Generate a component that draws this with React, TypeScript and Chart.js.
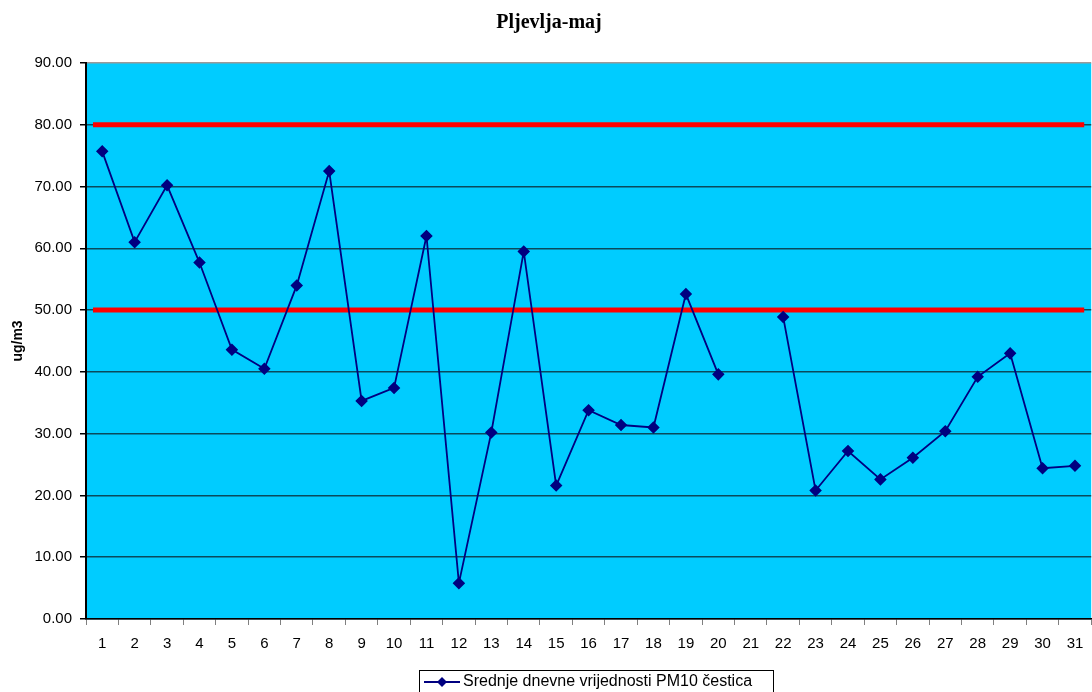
import React, { useEffect, useRef } from "react";
import { Chart, registerables } from "chart.js";

Chart.register(...registerables);

const categories = ["1","2","3","4","5","6","7","8","9","10","11","12","13","14","15","16","17","18","19","20","21","22","23","24","25","26","27","28","29","30","31"];
const pm10Values: (number | null)[] = [75.7, 61.0, 70.2, 57.7, 43.6, 40.5, 54.0, 72.5, 35.3, 37.4, 62.0, 5.8, 30.2, 59.5, 21.6, 33.8, 31.4, 31.0, 52.6, 39.6, null, 48.9, 20.8, 27.2, 22.6, 26.1, 30.4, 39.2, 43.0, 24.4, 24.8];
const limitValues = [50, 80];
const seriesLabel = "Srednje dnevne vrijednosti PM10 čestica";
const chartTitle = "Pljevlja-maj";
const yAxisTitle = "ug/m3";

export default function App() {
  const ref = useRef<HTMLCanvasElement | null>(null);
  useEffect(() => {
    document.body.style.margin = "0";
    const canvas = ref.current;
    if (!canvas) return;

    const bgPlugin = {
      id: "bg",
      beforeDraw(chart: any) {
        const { ctx, chartArea: a } = chart;
        ctx.save();
        ctx.fillStyle = "#00CCFF";
        ctx.fillRect(a.left, a.top, a.right - a.left, a.bottom - a.top);
        ctx.restore();
      },
      beforeDatasetsDraw(chart: any) {
        const { ctx, chartArea: a } = chart;
        const y = chart.scales.y;
        ctx.save();
        ctx.strokeStyle = "#FF0000";
        ctx.lineWidth = 5;
        for (const v of limitValues) {
          const py = y.getPixelForValue(v);
          ctx.beginPath();
          ctx.moveTo(a.left + 7, py);
          ctx.lineTo(a.right - 7, py);
          ctx.stroke();
        }
        ctx.restore();
      },
      afterDraw(chart: any) {
        const { ctx } = chart;
        ctx.save();
        const bx = 419, by = 670, bw = 354, bh = 23;
        ctx.fillStyle = "#ffffff";
        ctx.fillRect(bx, by, bw, bh);
        ctx.strokeStyle = "#000000";
        ctx.lineWidth = 1;
        ctx.strokeRect(bx + 0.5, by + 0.5, bw, bh);
        const cy = by + 12;
        ctx.strokeStyle = "#000080";
        ctx.lineWidth = 2;
        ctx.beginPath();
        ctx.moveTo(424, cy);
        ctx.lineTo(460, cy);
        ctx.stroke();
        ctx.fillStyle = "#000080";
        ctx.beginPath();
        ctx.moveTo(442, cy - 5);
        ctx.lineTo(447, cy);
        ctx.lineTo(442, cy + 5);
        ctx.lineTo(437, cy);
        ctx.closePath();
        ctx.fill();
        ctx.fillStyle = "#000000";
        ctx.font = "16px 'Liberation Sans', Arial, sans-serif";
        ctx.textBaseline = "middle";
        ctx.textAlign = "left";
        ctx.fillText(chart.data.datasets[0].label, 463, cy);
        ctx.restore();
      },
    };

    const chart = new Chart(canvas, {
      type: "line",
      data: {
        labels: categories,
        datasets: [
          {
            label: seriesLabel,
            data: pm10Values,
            borderColor: "#000080",
            backgroundColor: "#000080",
            borderWidth: 1.8,
            pointStyle: "rectRot",
            pointRadius: 5,
            pointHoverRadius: 5,
            pointBackgroundColor: "#000080",
            pointBorderColor: "#000080",
            spanGaps: false,
            tension: 0,
          },
        ],
      },
      options: {
        animation: false,
        responsive: false,
        maintainAspectRatio: false,
        layout: { padding: 0 },
        plugins: {
          legend: { display: false },
          tooltip: { enabled: false },
          title: {
            display: true,
            text: chartTitle,
            color: "#000000",
            font: { family: "'Liberation Serif', 'Times New Roman', serif", size: 20, weight: "bold" },
            padding: { top: 11, bottom: 28 },
          },
        },
        scales: {
          x: {
            offset: true,
            grid: {
              offset: true,
              drawOnChartArea: false,
              drawTicks: true,
              tickLength: 6,
              color: "#808080",
            },
            border: { color: "#000000", width: 1.5 },
            ticks: {
              color: "#000000",
              font: { family: "'Liberation Sans', Arial, sans-serif", size: 15 },
              padding: 10,
              maxRotation: 0,
              autoSkip: false,
            },
            afterFit(s: any) {
              s.height = 73;
              s.paddingRight = 0;
              s.paddingLeft = 0;
            },
          },
          y: {
            min: 0,
            max: 90,
            ticks: {
              stepSize: 10,
              color: "#000000",
              font: { family: "'Liberation Sans', Arial, sans-serif", size: 15 },
              padding: 8,
              callback: (v: any) => Number(v).toFixed(2),
            },
            grid: {
              color: (c: any) => (c.tick && c.tick.value === 90 ? "#9a9a9a" : "#0a4a5c"),
              lineWidth: 1.5,
              tickLength: 6,
              tickColor: "#000000",
            },
            border: { color: "#000000", width: 2 },
            title: {
              display: true,
              text: yAxisTitle,
              color: "#000000",
              font: { family: "'Liberation Sans', Arial, sans-serif", size: 14, weight: "bold" },
              padding: { top: 10, bottom: 0 },
            },
            afterFit(s: any) {
              s.width = 86;
            },
          },
        },
      },
      plugins: [bgPlugin],
    });
    return () => chart.destroy();
  }, []);
  return (
    <div style={{ width: 1092, height: 692, overflow: "hidden", position: "relative" }}>
      <canvas ref={ref} width={1098} height={692} style={{ display: "block" }} />
    </div>
  );
}
